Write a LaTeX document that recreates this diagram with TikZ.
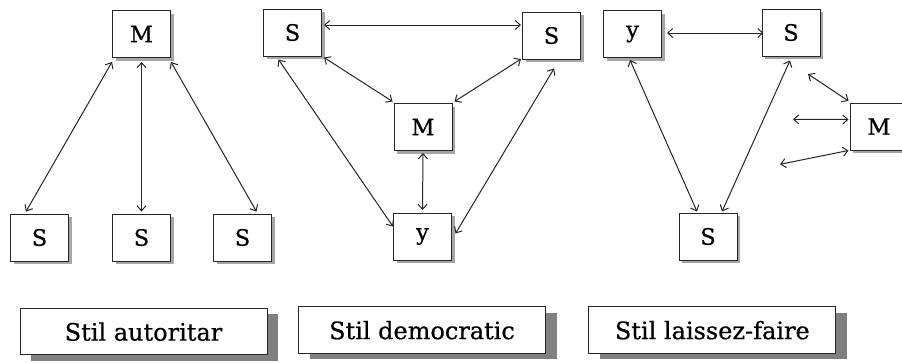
\documentclass[tikz,border=0pt]{standalone}
\usepackage{fontspec}
\setmainfont{DejaVu Serif}[FakeBold=0.6]
\usetikzlibrary{arrows.meta,shadows}
\begin{document}
\begin{tikzpicture}[x=1pt,y=-1pt,
  sbox/.style={draw=black!85,line width=1pt,fill=white,minimum width=58pt,minimum height=47pt,inner sep=0pt,
    font=\fontsize{22.5}{26}\selectfont,
    drop shadow={shadow xshift=3pt,shadow yshift=-3pt,fill=black!35,opacity=1}},
  lbox/.style={draw=black!85,line width=1pt,fill=white,minimum width=247pt,minimum height=46.5pt,inner sep=0pt,
    font=\fontsize{24}{28}\selectfont,
    drop shadow={shadow xshift=11pt,shadow yshift=-6pt,fill=black!50,opacity=1}},
  link/.style={draw=black!85,line width=1pt,{Straight Barb[length=5pt,width=9pt]}-{Straight Barb[length=5pt,width=9pt]}}
]
\useasboundingbox (0,0) rectangle (902,362);
\fill[white] (0,0) rectangle (902,362);

% Stil autoritar
\node[sbox] (aM)  at (141.5,34)   {M};
\node[sbox] (aS1) at (39.5,237.5) {S};
\node[sbox] (aS2) at (141.5,237.5){S};
\node[sbox] (aS3) at (242.5,237.5){S};
\draw[link] ([yshift=-4pt]aM.south west) -- ([xshift=-13.5pt,yshift=2pt]aS1.north);
\draw[link] ([yshift=-4pt]aM.south) -- ([yshift=2pt]aS2.north);
\draw[link] ([yshift=-4pt]aM.south east) -- ([xshift=14pt,yshift=2pt]aS3.north);

% Stil democratic
\node[sbox] (bS1) at (292.5,32.5) {S};
\node[sbox] (bS2) at (551.5,35.5) {S};
\node[sbox] (bM)  at (423,127)    {M};
\node[sbox] (bY)  at (422.5,236.5){y};
\draw[link] ([xshift=2pt,yshift=7.5pt]bS1.east) -- ([xshift=-1pt,yshift=7.5pt]bS1.east -| bS2.west);
\draw[link] ([xshift=2pt,yshift=-1pt]bS1.south east) -- ([xshift=-1pt,yshift=1.5pt]bM.north west);
\draw[link] ([xshift=-1pt,yshift=0.5pt]bS2.south west) -- ([xshift=2pt,yshift=1.5pt]bM.north east);
\draw[link] ([xshift=-14pt,yshift=-3pt]bS1.south) -- ([yshift=10pt]bY.west);
\draw[link] ([xshift=2.5pt,yshift=-9pt]bS2.south) -- ([xshift=3.5pt,yshift=3pt]bY.east);
\draw[link] ([yshift=-2pt]bM.south) -- ([yshift=2.5pt]bY.north);

% Stil laissez-faire
\node[sbox] (cY)  at (632.5,34)   {y};
\node[sbox] (cS1) at (791,32.5)   {S};
\node[sbox] (cM)  at (879,126.5)  {M};
\node[sbox] (cS2) at (708,236.5)  {S};
\draw[link] ([xshift=5pt,yshift=1pt]cY.east) -- ([xshift=2pt,yshift=1pt]cY.east -| cS1.west);
\draw[link] ([xshift=-2.5pt,yshift=-2pt]cY.south) -- ([xshift=-11pt,yshift=1pt]cS2.north);
\draw[link] ([xshift=-1pt,yshift=-4pt]cS1.south) -- ([xshift=14pt,yshift=1pt]cS2.north);
\coordinate (f1) at (808,74);
\coordinate (f2) at (793,119.3);
\coordinate (f3) at (780,164.3);
\draw[link] (f1) -- ([xshift=-1pt,yshift=1.5pt]cM.north west);
\draw[link] (f2) -- ([xshift=-1pt,yshift=7pt]cM.west);
\draw[link] (f3) -- ([xshift=-1pt]cM.south west);

% labels
\node[lbox] (l1) at (143.5,331.7) {Stil autoritar};
\node[lbox] (l2) at (422,330.2)   {Stil democratic};
\node[lbox] (l3) at (712.3,330.2) {Stil laissez-faire};
\end{tikzpicture}
\end{document}
